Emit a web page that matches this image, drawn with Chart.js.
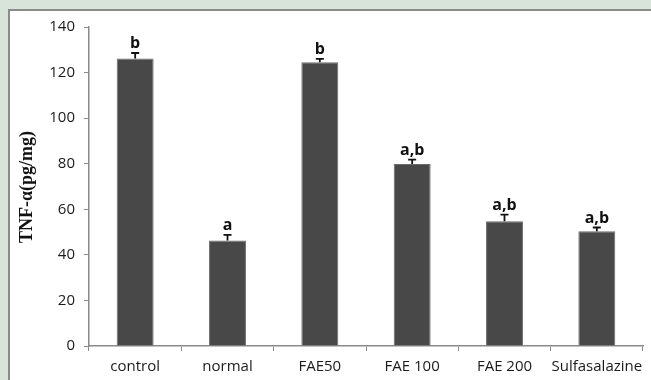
<!DOCTYPE html>
<html><head><meta charset="utf-8">
<script src="https://cdn.jsdelivr.net/npm/chart.js@4"></script>
<style>html,body{margin:0;padding:0;background:#d8e3da;}#wrap{width:651px;height:380px;position:relative;}</style>
</head><body><div id="wrap"><canvas id="c" width="651" height="380"></canvas></div>
<script>
const categories = ["control", "normal", "FAE50", "FAE 100", "FAE 200", "Sulfasalazine"];
const tnfValues = [126.2, 46.3, 124.5, 79.9, 54.7, 50.4];
const errValues = [2.4, 2.5, 1.5, 1.9, 3.0, 1.6];
const sigLabels = ["b", "a", "b", "a,b", "a,b", "a,b"];
const yTicks = [0, 20, 40, 60, 80, 100, 120, 140];
const yTitle = "TNF-\u03b1(pg/mg)";

const panelPlugin = {
  id: 'panel',
  beforeDraw(chart) {
    const ctx = chart.ctx;
    ctx.save();
    ctx.fillStyle = '#d8e3da';
    ctx.fillRect(0, 0, chart.width, chart.height);
    ctx.fillStyle = '#ffffff';
    ctx.fillRect(9, 10, chart.width - 9, chart.height - 10);
    ctx.strokeStyle = '#8a8a8a';
    ctx.lineWidth = 2;
    ctx.beginPath();
    ctx.moveTo(9, chart.height);
    ctx.lineTo(9, 10);
    ctx.lineTo(chart.width, 10);
    ctx.stroke();
    ctx.restore();
  },
  afterDatasetsDraw(chart) {
    const ctx = chart.ctx;
    const meta = chart.getDatasetMeta(0);
    const ys = chart.scales.y;
    ctx.save();
    meta.data.forEach((bar, i) => {
      const x = bar.x;
      const yTop = ys.getPixelForValue(tnfValues[i] + errValues[i]);
      const yBase = ys.getPixelForValue(tnfValues[i]);
      ctx.strokeStyle = '#111';
      ctx.lineWidth = 1.8;
      ctx.beginPath();
      ctx.moveTo(x, yBase);
      ctx.lineTo(x, yTop);
      ctx.moveTo(x - 4, yTop);
      ctx.lineTo(x + 4, yTop);
      ctx.stroke();
      ctx.fillStyle = '#111';
      ctx.font = 'bold 16px "Open Sans"';
      ctx.textAlign = 'center';
      ctx.textBaseline = 'alphabetic';
      ctx.fillText(sigLabels[i], x, yTop - 5);
    });
    // y title
    ctx.translate(27, 187);
    ctx.rotate(-Math.PI / 2);
    ctx.font = 'bold 18px "Liberation Serif"';
    ctx.textAlign = 'center';
    ctx.textBaseline = 'middle';
    ctx.fillStyle = '#111';
    ctx.fillText(yTitle, 0, 0);
    ctx.restore();
  }
};

new Chart(document.getElementById('c'), {
  type: 'bar',
  data: {
    labels: categories,
    datasets: [{
      data: tnfValues,
      backgroundColor: '#484848',
      borderColor: '#6a6a6a',
      borderWidth: 1,
      barPercentage: 0.4,
      categoryPercentage: 1.0
    }]
  },
  options: {
    responsive: false,
    animation: false,
    devicePixelRatio: 1,
    layout: { padding: { left: 0, top: 27, right: 8, bottom: 0 } },
    plugins: { legend: { display: false }, tooltip: { enabled: false } },
    scales: {
      x: {
        afterFit(s) { s.height = 34; },
        grid: { display: true, drawOnChartArea: false, offset: true, tickLength: 5, color: '#8a8a8a', lineWidth: 1 },
        border: { display: true, color: '#8a8a8a', width: 1.5 },
        ticks: { color: '#1a1a1a', font: { family: '"Open Sans"', size: 15 }, padding: 7, maxRotation: 0, autoSkip: false }
      },
      y: {
        min: 0, max: 140,
        afterFit(s) { s.width = 89; },
        afterBuildTicks(s) { s.ticks = yTicks.map(v => ({ value: v })); },
        grid: { display: true, drawOnChartArea: false, tickLength: 5, color: '#8a8a8a', lineWidth: 1 },
        border: { display: true, color: '#8a8a8a', width: 1.5 },
        ticks: { color: '#1a1a1a', font: { family: '"Open Sans"', size: 15 }, padding: 9 }
      }
    }
  },
  plugins: [panelPlugin]
});
</script></body></html>
